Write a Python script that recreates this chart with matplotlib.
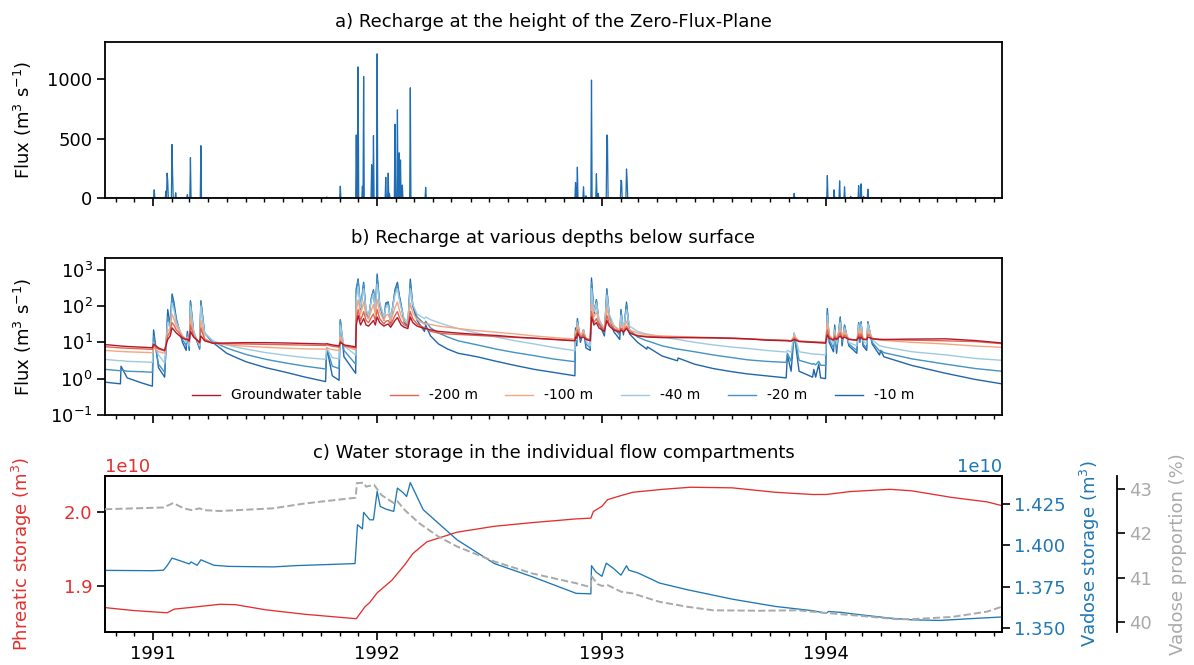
import numpy as np
import pandas as pd
import matplotlib
matplotlib.use("Agg")
import matplotlib.pyplot as plt
import matplotlib.dates as mdates
from matplotlib.ticker import MultipleLocator, FixedLocator, NullLocator
from matplotlib.lines import Line2D

# ---------------- data ----------------
start_date, end_date = "1990-10-15", "1994-10-14"

# a) recharge at the Zero-Flux-Plane: event dates and peak values (m3/s)
a_dates = ["1991-01-03", "1991-01-22", "1991-01-24", "1991-01-25", "1991-02-01", "1991-02-02",
           "1991-02-07", "1991-02-26", "1991-03-03", "1991-03-20", "1991-10-11", "1991-11-02",
           "1991-11-28", "1991-12-01", "1991-12-08", "1991-12-10", "1991-12-23", "1991-12-26",
           "1992-01-01", "1992-01-15", "1992-01-19", "1992-01-21", "1992-01-30", "1992-02-03",
           "1992-02-06", "1992-02-08", "1992-02-11", "1992-02-24", "1992-03-20", "1992-11-19",
           "1992-11-22", "1992-12-02", "1992-12-06", "1992-12-15", "1992-12-23", "1992-12-26",
           "1993-01-09", "1993-01-10", "1993-02-01", "1993-02-02", "1993-02-10", "1993-02-11",
           "1993-11-10", "1994-01-03", "1994-01-14", "1994-01-23", "1994-01-31", "1994-02-10",
           "1994-02-23", "1994-02-27", "1994-03-03", "1994-03-10", "1994-04-01"]
a_peaks = [70, 60, 210, 150, 450, 190,
           45, 30, 340, 440, 10, 100,
           530, 1100, 100, 1020, 280, 525,
           1210, 175, 210, 40, 620, 740,
           380, 320, 110, 925, 90, 130,
           260, 95, 20, 990, 205, 40,
           530, 500, 150, 140, 245, 150,
           40, 190, 70, 145, 95, 15,
           105, 120, 15, 75, 5]

# b) recharge at various depths (m3/s)
b_dates = ["1990-10-15", "1990-11-09", "1990-11-10", "1990-11-20", "1990-12-15", "1990-12-31",
           "1991-01-02", "1991-01-10", "1991-01-20", "1991-01-25", "1991-01-29", "1991-02-01",
           "1991-02-04", "1991-02-08", "1991-02-18", "1991-02-24", "1991-02-26", "1991-03-01",
           "1991-03-03", "1991-03-08", "1991-03-18", "1991-03-20", "1991-03-26", "1991-04-08",
           "1991-04-20", "1991-05-01", "1991-05-15", "1991-06-02", "1991-07-04", "1991-08-05",
           "1991-09-06", "1991-10-09", "1991-10-11", "1991-10-20", "1991-10-31", "1991-11-02",
           "1991-11-08", "1991-11-27", "1991-11-28", "1991-12-01", "1991-12-05", "1991-12-10",
           "1991-12-14", "1991-12-18", "1991-12-23", "1991-12-26", "1991-12-29", "1992-01-01",
           "1992-01-05", "1992-01-12", "1992-01-15", "1992-01-19", "1992-01-23", "1992-01-30",
           "1992-02-03", "1992-02-06", "1992-02-09", "1992-02-14", "1992-02-20", "1992-02-24",
           "1992-02-28", "1992-03-06", "1992-03-18", "1992-03-20", "1992-03-28", "1992-04-10",
           "1992-04-25", "1992-05-12", "1992-06-12", "1992-07-13", "1992-08-13", "1992-09-13",
           "1992-10-13", "1992-11-13", "1992-11-18", "1992-11-19", "1992-11-21", "1992-11-22",
           "1992-11-27", "1992-12-02", "1992-12-06", "1992-12-13", "1992-12-15", "1992-12-19",
           "1992-12-23", "1992-12-27", "1993-01-05", "1993-01-09", "1993-01-13", "1993-01-20",
           "1993-01-30", "1993-02-01", "1993-02-05", "1993-02-10", "1993-02-15", "1993-02-28",
           "1993-03-15", "1993-03-16", "1993-04-09", "1993-05-04", "1993-05-05", "1993-06-01",
           "1993-07-01", "1993-08-01", "1993-08-26", "1993-09-25", "1993-10-28", "1993-10-30",
           "1993-11-05", "1993-11-10", "1993-11-18", "1993-12-10", "1993-12-12", "1993-12-15",
           "1993-12-20", "1993-12-23", "1993-12-31", "1994-01-03", "1994-01-06", "1994-01-13",
           "1994-01-15", "1994-01-18", "1994-01-24", "1994-01-27", "1994-01-31", "1994-02-07",
           "1994-02-20", "1994-02-23", "1994-02-25", "1994-02-27", "1994-03-02", "1994-03-08",
           "1994-03-10", "1994-03-17", "1994-03-29", "1994-03-31", "1994-04-05", "1994-05-21",
           "1994-07-15", "1994-09-01", "1994-10-14"]
gw_table = [8.7, 7.9, 7.9, 7.7, 7.3, 7.1,
            9.0, 7.0, 6.0, 12, 15, 25,
            22, 18, 13, 12, 12, 11,
            20, 14, 10, 15, 11, 9.5,
            9.5, 9.6, 9.7, 9.8, 9.8, 9.6,
            9.3, 9.0, 9.2, 8.5, 8.0, 10,
            8.5, 7.5, 30, 55, 30, 45,
            30, 28, 35, 40, 30, 50,
            35, 28, 30, 32, 26, 40,
            48, 38, 30, 26, 24, 50,
            35, 28, 24, 24, 22, 20,
            19, 18, 16.5, 15.5, 14, 13,
            12, 11.2, 11.0, 14, 13, 18,
            13, 14, 12, 11, 50, 30,
            35, 25, 20, 40, 28, 22,
            19, 22, 19, 24, 18, 15,
            14, 14, 13.5, 13.5, 13.5, 13.5,
            13.4, 13, 12.5, 11.5, 11, 11,
            10.8, 12, 10.5, 10, 10, 9.9,
            9.8, 9.7, 9.5, 16, 13, 11.5,
            13, 12, 15, 12.5, 14, 12,
            11.5, 14, 12.5, 14, 12, 11.8,
            14, 12.5, 12, 12, 12, 12.3,
            12.5, 11.2, 9.6]
d200 = [7.6, 7.0, 7.0, 6.9, 6.6, 6.4,
        8.0, 6.5, 5.8, 15, 20, 35,
        30, 22, 14, 12, 12.5, 10.5,
        30, 15, 9.5, 25, 12, 9.5,
        9.3, 9.2, 9.1, 9.0, 8.8, 8.6,
        8.4, 8.2, 8.5, 7.8, 7.4, 11,
        8, 7, 40, 80, 40, 70,
        40, 35, 50, 60, 40, 80,
        45, 32, 38, 40, 30, 55,
        70, 50, 38, 30, 27, 70,
        45, 32, 25, 25, 20, 18,
        17, 16.5, 15.5, 14.5, 13.6, 13,
        12.2, 11.5, 11.3, 16, 14, 22,
        14, 16, 13, 11.5, 70, 35,
        45, 30, 22, 55, 32, 24,
        20, 25, 20, 28, 19, 15.5,
        14.5, 14.5, 14, 13.8, 13.8, 13.5,
        13.2, 12.8, 12.4, 11.8, 11.3, 11.3,
        11, 13, 10.8, 10.4, 10.4, 10.3,
        10.2, 10.1, 9.8, 22, 14, 11.5,
        15, 12, 18, 13, 16, 12.2,
        11.5, 17, 13, 17, 12.5, 12,
        17, 12.5, 12, 12, 11.9, 11.5,
        11, 10.5, 9.2]
d100 = [6.0, 5.6, 5.6, 5.5, 5.3, 5.2,
        7.0, 5.5, 5.0, 20, 25, 60,
        45, 28, 15, 12, 13, 10,
        50, 16, 9, 40, 13, 9.5,
        9.0, 8.6, 8.2, 7.8, 7.3, 6.9,
        6.6, 6.5, 7.0, 6.3, 6.0, 15,
        8, 6.2, 70, 150, 60, 130,
        55, 45, 80, 110, 60, 150,
        70, 40, 55, 60, 38, 90,
        130, 80, 55, 38, 32, 120,
        65, 42, 32, 33, 31, 28,
        26, 24, 21, 19, 17, 15,
        13.6, 12.5, 12.3, 20, 16, 30,
        15, 20, 13, 11, 120, 50,
        70, 38, 25, 90, 42, 28,
        22, 32, 23, 38, 22, 18,
        16, 16, 15, 14.5, 14.5, 14,
        13.5, 13, 12.5, 12, 11.3, 11.3,
        11, 15, 10.8, 10.3, 10.3, 10.2,
        10.1, 10.1, 10, 35, 16, 11.5,
        18, 12, 25, 14, 20, 12.5,
        11.5, 22, 14, 23, 13, 12,
        22, 13, 11.5, 11.5, 11.3, 10,
        9, 7.9, 7.3]
d40 = [3.4, 3.1, 3.15, 3.0, 2.9, 2.8,
       10, 4.5, 2.7, 35, 25, 120,
       80, 35, 15, 10, 14, 8,
       100, 20, 8, 100, 18, 11,
       9.5, 8.5, 7.5, 6.5, 5.2, 4.4,
       3.8, 3.4, 7, 3.8, 3.5, 30,
       8, 4.5, 150, 350, 90, 300,
       80, 55, 150, 220, 80, 400,
       120, 50, 90, 100, 45, 200,
       300, 150, 90, 45, 38, 300,
       110, 60, 45, 50, 42, 35,
       29, 24, 18, 14, 11, 9,
       7.3, 6.1, 5.9, 20, 12, 35,
       14, 22, 11, 8, 300, 70,
       120, 45, 22, 200, 60, 30,
       20, 55, 25, 80, 28, 20,
       17, 17, 14, 12, 12, 10,
       8.5, 7.4, 6.8, 6, 5.4, 6,
       5.3, 18, 5.5, 4.8, 4.8, 4.7,
       4.7, 4.6, 4.5, 55, 15, 9,
       22, 9, 35, 12, 25, 10,
       8, 30, 13, 32, 11, 9,
       32, 12, 8, 8, 7.5, 5.5,
       4.5, 3.6, 3.2]
d20 = [1.8, 1.65, 1.75, 1.6, 1.55, 1.5,
       15, 2.5, 1.5, 50, 30, 170,
       100, 40, 12, 8, 17, 7,
       130, 20, 7, 130, 18, 11,
       8.5, 7.0, 5.8, 4.6, 3.4, 2.7,
       2.2, 1.85, 7, 2.2, 1.9, 40,
       6, 2.5, 250, 500, 90, 400,
       70, 50, 180, 260, 80, 600,
       120, 45, 110, 120, 40, 250,
       380, 180, 100, 40, 32, 420,
       110, 50, 32, 38, 25, 18,
       14, 11, 8.5, 6.5, 5.2, 4.3,
       3.5, 3.0, 2.95, 22, 10, 40,
       12, 22, 9, 7, 450, 70,
       140, 40, 18, 260, 55, 25,
       16, 70, 20, 110, 22, 14,
       11, 11, 8, 6.5, 6.5, 5.5,
       4.5, 3.8, 3.3, 3.0, 2.8, 5,
       3, 18, 3.2, 2.5, 2.6, 2.4,
       3.0, 2.35, 2.3, 70, 12, 7,
       26, 6.5, 45, 10, 28, 9,
       6, 33, 11, 35, 9, 7,
       35, 10, 5.8, 6, 5.2, 3.5,
       2.5, 1.9, 1.6]
d10 = [0.80, 0.72, 2.2, 1.05, 0.75, 0.62,
       22, 2.0, 1.1, 80, 30, 215,
       130, 45, 10, 6, 20, 6,
       140, 20, 6.5, 140, 18, 10,
       7, 5.0, 3.9, 2.9, 2.0, 1.5,
       1.1, 0.83, 7, 1.2, 0.9, 42,
       4, 1.4, 300, 560, 80, 450,
       60, 45, 180, 280, 70, 760,
       110, 40, 120, 130, 35, 280,
       450, 200, 110, 35, 28, 550,
       100, 40, 20, 30, 15, 9,
       6.5, 5, 4, 3, 2.3, 1.8,
       1.5, 1.25, 1.2, 25, 8, 45,
       10, 22, 7, 6, 590, 60,
       150, 35, 15, 300, 50, 20,
       12, 80, 16, 128, 17, 10,
       6.5, 7.5, 4.2, 3.1, 3.7, 2.5,
       1.9, 1.55, 1.35, 1.2, 1.05, 4.5,
       1.6, 17, 1.6, 1.1, 1.8, 1.1,
       2.5, 1.05, 1.0, 85, 10, 5.5,
       30, 5, 50, 8, 30, 8,
       5, 35, 10, 37, 8, 6,
       37, 9, 4.5, 6, 4.0, 2.3,
       1.4, 0.95, 0.72]

b_labels = ["Groundwater table", "-200 m", "-100 m", "-40 m", "-20 m", "-10 m"]
b_colors = ["#b2182b", "#e0644f", "#f4a582", "#9ecae1", "#4393c3", "#2166ac"]

# c) water storage (1e10 m3) and vadose proportion (%)
p_dates = ["1990-10-15", "1990-12-01", "1991-01-24", "1991-02-05", "1991-03-01", "1991-04-20",
           "1991-05-15", "1991-07-04", "1991-09-05", "1991-11-28", "1991-12-12", "1991-12-20",
           "1992-01-01", "1992-01-25", "1992-02-15", "1992-02-28", "1992-03-22", "1992-05-10",
           "1992-07-10", "1992-09-10", "1992-11-20", "1992-12-14", "1992-12-18", "1993-01-01",
           "1993-01-10", "1993-02-01", "1993-02-20", "1993-04-10", "1993-05-25", "1993-08-01",
           "1993-10-10", "1993-12-10", "1994-01-01", "1994-02-10", "1994-04-15", "1994-05-20",
           "1994-07-25", "1994-09-20", "1994-10-14"]
phreatic = [1.871, 1.867, 1.864, 1.869, 1.871, 1.8755,
            1.875, 1.868, 1.862, 1.856, 1.872, 1.878,
            1.891, 1.908, 1.929, 1.944, 1.960, 1.973,
            1.981, 1.986, 1.991, 1.992, 2.001, 2.008,
            2.017, 2.0225, 2.027, 2.031, 2.0338, 2.033,
            2.027, 2.024, 2.024, 2.028, 2.031, 2.029,
            2.020, 2.014, 2.009]

v_dates = ["1990-10-15", "1991-01-01", "1991-01-18", "1991-01-24", "1991-02-01", "1991-02-12",
           "1991-03-01", "1991-03-04", "1991-03-14", "1991-03-20", "1991-04-10", "1991-05-05",
           "1991-07-16", "1991-08-23", "1991-11-26", "1991-11-30", "1991-12-08", "1991-12-10",
           "1991-12-20", "1991-12-26", "1992-01-01", "1992-01-06", "1992-01-15", "1992-01-28",
           "1992-02-03", "1992-02-12", "1992-02-18", "1992-02-24", "1992-03-16", "1992-05-10",
           "1992-07-10", "1992-09-10", "1992-11-20", "1992-12-14", "1992-12-15", "1992-12-22",
           "1993-01-01", "1993-01-08", "1993-01-20", "1993-02-01", "1993-02-10", "1993-02-14",
           "1993-03-01", "1993-04-05", "1993-05-20", "1993-08-01", "1993-10-10", "1993-12-10",
           "1994-01-01", "1994-01-05", "1994-01-25", "1994-02-15", "1994-04-15", "1994-05-20",
           "1994-07-05", "1994-08-20", "1994-10-14"]
vadose = [1.3849, 1.3847, 1.3850, 1.3877, 1.3923, 1.3910,
          1.3888, 1.3900, 1.3880, 1.3913, 1.3880, 1.3873,
          1.3870, 1.3878, 1.3890, 1.4125, 1.4100, 1.4200,
          1.4155, 1.4155, 1.4327, 1.4236, 1.4220, 1.4206,
          1.4347, 1.4320, 1.4296, 1.4380, 1.4216, 1.4034,
          1.3890, 1.3810, 1.3710, 1.3707, 1.3877, 1.3840,
          1.3813, 1.3893, 1.3860, 1.3820, 1.3877, 1.3850,
          1.3833, 1.3772, 1.3732, 1.3675, 1.3631, 1.3605,
          1.3590, 1.3600, 1.3595, 1.3585, 1.3560, 1.3550,
          1.3546, 1.3556, 1.3567]

g_dates = ["1990-10-15", "1991-01-18", "1991-02-03", "1991-02-20", "1991-03-05", "1991-03-18",
           "1991-03-25", "1991-04-20", "1991-07-15", "1991-09-05", "1991-11-27", "1991-11-29",
           "1991-12-10", "1991-12-14", "1991-12-27", "1992-01-08", "1992-01-28", "1992-02-03",
           "1992-02-15", "1992-03-10", "1992-04-10", "1992-05-10", "1992-07-10", "1992-09-10",
           "1992-11-20", "1992-12-14", "1992-12-15", "1992-12-25", "1993-01-01", "1993-01-10",
           "1993-02-01", "1993-02-20", "1993-04-05", "1993-05-20", "1993-07-01", "1993-09-15",
           "1993-11-15", "1994-01-01", "1994-03-01", "1994-04-25", "1994-05-20", "1994-07-25",
           "1994-09-20", "1994-10-14"]
proportion = [42.54, 42.58, 42.68, 42.56, 42.52, 42.56,
              42.52, 42.50, 42.56, 42.67, 42.80, 43.13,
              43.14, 43.05, 43.09, 42.86, 42.68, 42.72,
              42.52, 42.22, 41.92, 41.70, 41.36, 41.09,
              40.87, 40.78, 41.03, 40.85, 40.81, 40.83,
              40.68, 40.64, 40.45, 40.34, 40.26, 40.25,
              40.26, 40.20, 40.13, 40.06, 40.06, 40.11,
              40.23, 40.34]

# ---------------- style ----------------
plt.rcParams.update({
    "font.family": "DejaVu Sans",
    "font.size": 13,
    "axes.linewidth": 1.3,
    "xtick.major.size": 5.5, "xtick.minor.size": 3,
    "xtick.major.width": 1.2, "xtick.minor.width": 1.0,
    "ytick.major.size": 5.5, "ytick.major.width": 1.2,
    "ytick.minor.size": 3,
})

RED = "#e3302f"
BLUE = "#1f77b4"
GRAY = "#a9a9a9"

fig = plt.figure(figsize=(11.94, 6.65), dpi=100)
L, R = 0.088, 0.839
axa = fig.add_axes([L, 0.702, R - L, 0.235])
axb = fig.add_axes([L, 0.376, R - L, 0.236], sharex=axa)
axc = fig.add_axes([L, 0.0496, R - L, 0.2346], sharex=axa)

# ---- panel a ----
days = pd.date_range(start_date, end_date, freq="D")
a_series = pd.Series(0.0, index=days)
for d, p in zip(a_dates, a_peaks):
    a_series[pd.Timestamp(d)] = p
axa.plot(a_series.index, a_series.values, color="#1f6db4", lw=0.9)
axa.set_ylim(0, 1310)
axa.yaxis.set_major_locator(FixedLocator([0, 500, 1000]))
axa.set_title("a) Recharge at the height of the Zero-Flux-Plane", fontsize=13, pad=11)
axa.set_ylabel("Flux (m$^3$ s$^{-1}$)")

# ---- panel b ----
bd = pd.to_datetime(b_dates)
series_b = [gw_table, d200, d100, d40, d20, d10]
for i in range(len(series_b) - 1, -1, -1):
    axb.plot(bd, series_b[i], color=b_colors[i], lw=1.0)
handles = [Line2D([], [], color=c, lw=1.0) for c in b_colors]
axb.set_yscale("log")
axb.set_ylim(0.1, 2100)
axb.yaxis.set_major_locator(FixedLocator([0.1, 1, 10, 100, 1000]))
axb.yaxis.set_minor_locator(NullLocator())
axb.set_title("b) Recharge at various depths below surface", fontsize=13, pad=11)
axb.set_ylabel("Flux (m$^3$ s$^{-1}$)")
axb.legend(handles, b_labels, ncol=6, loc="lower center", frameon=False, fontsize=10,
           bbox_to_anchor=(0.5, 0.0))

# ---- panel c ----
pdts = pd.to_datetime(p_dates)
axc.plot(pdts, np.array(phreatic) * 1e10, color=RED, lw=0.95)
axc.set_ylim(1.838e10, 2.049e10)
axc.yaxis.set_major_locator(MultipleLocator(0.1e10))
axc.ticklabel_format(axis="y", style="sci", scilimits=(0, 0), useOffset=False)
axc.tick_params(axis="y", labelcolor=RED)
axc.yaxis.get_offset_text().set_color(RED)
axc.set_ylabel("Phreatic storage (m$^3$)", color=RED)
axc.set_title("c) Water storage in the individual flow compartments", fontsize=13, pad=13)

axc2 = axc.twinx()
axc2.plot(pd.to_datetime(v_dates), np.array(vadose) * 1e10, color=BLUE, lw=0.95)
axc2.set_ylim(1.3476e10, 1.442e10)
axc2.yaxis.set_major_locator(MultipleLocator(0.025e10))
axc2.ticklabel_format(axis="y", style="sci", scilimits=(0, 0), useOffset=False)
axc2.tick_params(axis="y", labelcolor=BLUE)
axc2.yaxis.get_offset_text().set_color(BLUE)
axc2.set_ylabel("Vadose storage (m$^3$)", color=BLUE, labelpad=9)

axc3 = axc.twinx()
axc3.spines["right"].set_position(("axes", 1.128))
for s in ["top", "left", "bottom"]:
    axc3.spines[s].set_visible(False)
axc3.plot(pd.to_datetime(g_dates), proportion, color=GRAY, lw=1.4, ls="--")
axc3.set_ylim(39.77, 43.29)
axc3.yaxis.set_major_locator(MultipleLocator(1))
axc3.tick_params(axis="y", labelcolor=GRAY)
axc3.set_ylabel("Vadose proportion (%)", color=GRAY, labelpad=12)

# ---- shared x axis ----
axc.set_xlim(pd.Timestamp(start_date), pd.Timestamp(end_date))
axc.xaxis.set_major_locator(mdates.YearLocator())
axc.xaxis.set_minor_locator(mdates.MonthLocator())
axc.xaxis.set_major_formatter(mdates.DateFormatter("%Y"))
for ax in (axa, axb):
    plt.setp(ax.get_xticklabels(), visible=False)

for ax in (axa, axb, axc):
    ax.yaxis.set_label_coords(-0.079, 0.5)

fig.savefig("out.png", dpi=100)
